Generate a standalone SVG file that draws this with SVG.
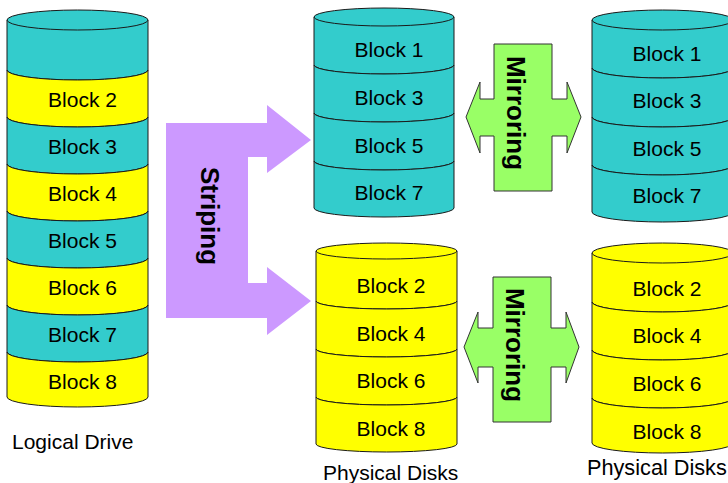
<svg xmlns="http://www.w3.org/2000/svg" width="728" height="483" viewBox="0 0 728 483">
<style>
.t{fill:#33CCCC;stroke:#1a1a1a;stroke-width:1}
.y{fill:#FFFF00;stroke:#1a1a1a;stroke-width:1}
.lb{font-family:"Liberation Sans",Arial,sans-serif;font-size:21px;fill:#000;text-anchor:middle}
.cap{font-family:"Liberation Sans",Arial,sans-serif;font-size:21px;fill:#000}
.ar{font-family:"Liberation Sans",Arial,sans-serif;font-size:26px;font-weight:bold;fill:#000;text-anchor:middle}
.stripe{fill:#CC99FF;stroke:none}
.mirror{fill:#99FF66;stroke:#333;stroke-width:1}
</style>
<rect width="728" height="483" fill="#fff"/>

<g id="logical-drive">
<path class="t" d="M7,20 L7,70 A70.5,10 0 0 0 148,70 L148,20 Z"/>
<ellipse class="t" cx="77.5" cy="20" rx="70.5" ry="10"/>
<path class="y" d="M7,70 A70.5,10 0 0 0 148,70 L148,117 A70.5,10 0 0 1 7,117 Z"/>
<path class="t" d="M7,117 A70.5,10 0 0 0 148,117 L148,164 A70.5,10 0 0 1 7,164 Z"/>
<path class="y" d="M7,164 A70.5,10 0 0 0 148,164 L148,211 A70.5,10 0 0 1 7,211 Z"/>
<path class="t" d="M7,211 A70.5,10 0 0 0 148,211 L148,258 A70.5,10 0 0 1 7,258 Z"/>
<path class="y" d="M7,258 A70.5,10 0 0 0 148,258 L148,305 A70.5,10 0 0 1 7,305 Z"/>
<path class="t" d="M7,305 A70.5,10 0 0 0 148,305 L148,352 A70.5,10 0 0 1 7,352 Z"/>
<path class="y" d="M7,352 A70.5,10 0 0 0 148,352 L148,397 A70.5,10 0 0 1 7,397 Z"/>
<text class="lb" x="82.5" y="107">Block 2</text>
<text class="lb" x="82.5" y="154">Block 3</text>
<text class="lb" x="82.5" y="201">Block 4</text>
<text class="lb" x="82.5" y="248">Block 5</text>
<text class="lb" x="82.5" y="295">Block 6</text>
<text class="lb" x="82.5" y="342">Block 7</text>
<text class="lb" x="82.5" y="389">Block 8</text>
<text class="cap" x="12" y="449">Logical Drive</text>
</g>

<g id="disk-odd-primary">
<path class="t" d="M314,17 L314,65 A70,9 0 0 0 454,65 L454,17 Z"/>
<ellipse class="t" cx="384" cy="17" rx="70" ry="9"/>
<path class="t" d="M314,65 A70,9 0 0 0 454,65 L454,113 A70,9 0 0 1 314,113 Z"/>
<path class="t" d="M314,113 A70,9 0 0 0 454,113 L454,161 A70,9 0 0 1 314,161 Z"/>
<path class="t" d="M314,161 A70,9 0 0 0 454,161 L454,208 A70,9 0 0 1 314,208 Z"/>
<text class="lb" x="389" y="57">Block 1</text>
<text class="lb" x="389" y="105">Block 3</text>
<text class="lb" x="389" y="153">Block 5</text>
<text class="lb" x="389" y="200">Block 7</text>
</g>

<g id="disk-even-primary">
<path class="y" d="M316,251 L316,301 A70.5,8 0 0 0 457,301 L457,251 Z"/>
<ellipse class="y" cx="386.5" cy="251" rx="70.5" ry="8"/>
<path class="y" d="M316,301 A70.5,8 0 0 0 457,301 L457,349 A70.5,8 0 0 1 316,349 Z"/>
<path class="y" d="M316,349 A70.5,8 0 0 0 457,349 L457,397 A70.5,8 0 0 1 316,397 Z"/>
<path class="y" d="M316,397 A70.5,8 0 0 0 457,397 L457,444 A70.5,8 0 0 1 316,444 Z"/>
<text class="lb" x="391" y="293">Block 2</text>
<text class="lb" x="391" y="341">Block 4</text>
<text class="lb" x="391" y="388">Block 6</text>
<text class="lb" x="391" y="436">Block 8</text>
<text class="cap" x="323" y="480">Physical Disks</text>
</g>

<g id="disk-odd-mirror">
<path class="t" d="M592,20 L592,68 A70.5,10 0 0 0 733,68 L733,20 Z"/>
<ellipse class="t" cx="662.5" cy="20" rx="70.5" ry="10"/>
<path class="t" d="M592,68 A70.5,10 0 0 0 733,68 L733,117 A70.5,10 0 0 1 592,117 Z"/>
<path class="t" d="M592,117 A70.5,10 0 0 0 733,117 L733,165 A70.5,10 0 0 1 592,165 Z"/>
<path class="t" d="M592,165 A70.5,10 0 0 0 733,165 L733,212 A70.5,10 0 0 1 592,212 Z"/>
<text class="lb" x="667" y="61">Block 1</text>
<text class="lb" x="667" y="108">Block 3</text>
<text class="lb" x="667" y="156">Block 5</text>
<text class="lb" x="667" y="203">Block 7</text>
</g>

<g id="disk-even-mirror">
<path class="y" d="M592,253 L592,302 A70.5,10 0 0 0 733,302 L733,253 Z"/>
<ellipse class="y" cx="662.5" cy="253" rx="70.5" ry="10"/>
<path class="y" d="M592,302 A70.5,10 0 0 0 733,302 L733,350 A70.5,10 0 0 1 592,350 Z"/>
<path class="y" d="M592,350 A70.5,10 0 0 0 733,350 L733,398 A70.5,10 0 0 1 592,398 Z"/>
<path class="y" d="M592,398 A70.5,10 0 0 0 733,398 L733,443 A70.5,10 0 0 1 592,443 Z"/>
<text class="lb" x="667" y="296">Block 2</text>
<text class="lb" x="667" y="343">Block 4</text>
<text class="lb" x="667" y="391">Block 6</text>
<text class="lb" x="667" y="439">Block 8</text>
<text class="cap" x="587" y="475" style="font-size:21.7px">Physical Disks</text>
</g>

<g id="connectors">
<g id="striping">
<polygon class="stripe" points="166,123 267,123 267,105 311,140 267,173 267,157 248,157 248,283 267,283 267,267 311,301 267,335 267,318 166,318"/>
<text class="ar" transform="translate(201,216) rotate(90)">Striping</text>
</g>
<g id="mirroring-odd">
<polygon class="mirror" points="494,44 552,44 552,99 567,99 567,82 581,117 567,153 567,136 552,136 552,191 494,191 494,136 480,136 480,153 466,117 480,82 480,99 494,99"/>
<text class="ar" transform="translate(507,113) rotate(90)">Mirroring</text>
</g>
<g id="mirroring-even">
<polygon class="mirror" points="493,277 551,277 551,328 566,328 566,312 579,347 566,383 566,367 551,367 551,422 493,422 493,367 478,367 478,383 464,347 478,312 478,328 493,328"/>
<text class="ar" transform="translate(506,345) rotate(90)">Mirroring</text>
</g>
</g>
</svg>
